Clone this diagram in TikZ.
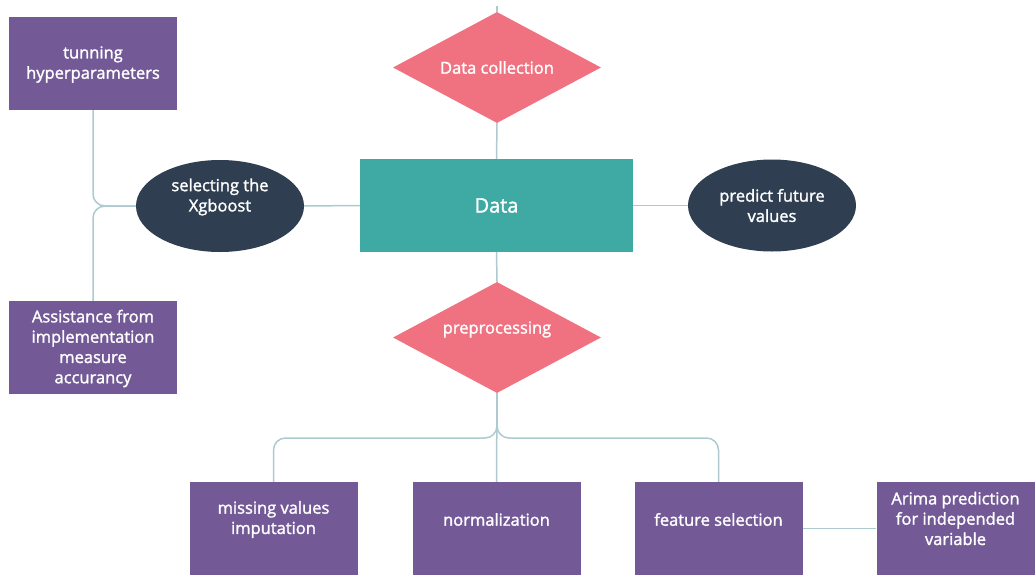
\documentclass[tikz,border=0pt]{standalone}
\usepackage{fontspec}
\setmainfont{Open Sans}[FakeBold=1.6]
\usetikzlibrary{shapes.geometric}
\definecolor{boxpurple}{RGB}{115,90,151}
\definecolor{navy}{RGB}{47,63,81}
\definecolor{pinkd}{RGB}{240,114,128}
\definecolor{tealb}{RGB}{62,170,163}
\definecolor{linec}{RGB}{172,202,208}
\tikzset{
  pbox/.style={rectangle, fill=boxpurple, minimum width=168pt, minimum height=93pt, inner sep=0pt},
  oval/.style={ellipse, fill=navy, minimum width=168pt, minimum height=92pt, inner sep=0pt},
  dmd/.style={diamond, fill=pinkd, minimum width=208pt, minimum height=111pt, aspect=1.87, inner sep=0pt},
  txt/.style={text=white, align=center, font=\fontsize{16.5}{20.3}\selectfont},
  conn/.style={draw=linec, line width=1.5pt},
}
\begin{document}
\begin{tikzpicture}[x=1pt,y=-1pt]
\useasboundingbox (0,0) rectangle (1036,576);
% nodes
\node[rectangle, fill=tealb, minimum width=273pt, minimum height=93pt, inner sep=0pt] (data) at (496.5,205.5) {};
\node[txt, font=\fontsize{20}{24}\selectfont] at (data.center) {Data};
\node[dmd] (dc) at (497,67.5) {};
\node[txt] at (dc.center) {Data collection};
\node[dmd] (pp) at (497,337.5) {};
\node[txt] at ([yshift=8pt]pp.center) {preprocessing};
\node[oval] (sel) at (220,206) {};
\node[txt] at ([yshift=9pt]sel.center) {selecting the\\Xgboost};
\node[oval] (pred) at (772,205.5) {};
\node[txt] at (pred.center) {predict future\\values};
\node[pbox] (tl) at (93,63.5) {};
\node[txt] at ([yshift=-1pt]tl.center) {tunning\\hyperparameters};
\node[pbox] (al) at (93,347.5) {};
\node[txt] at ([yshift=-1pt]al.center) {Assistance from\\implementation\\measure\\accurancy};
\node[pbox] (mv) at (273.5,528.5) {};
\node[txt] at ([yshift=9pt]mv.center) {missing values\\imputation};
\node[pbox] (nm) at (496.5,528.5) {};
\node[txt] at ([yshift=9pt]nm.center) {normalization};
\node[pbox] (fs) at (718.5,528.5) {};
\node[txt] at ([yshift=9pt]fs.center) {feature selection};
\node[rectangle, fill=boxpurple, minimum width=158pt, minimum height=93pt, inner sep=0pt] (ar) at (955.5,528.5) {};
\node[txt] at ([yshift=10pt]ar.center) {Arima prediction\\for independed\\variable};
% coordinates
\coordinate (top) at (497,6);
\coordinate (bfork) at (497,438);
% connectors
\draw[conn] (top) -- (dc.north);
\draw[conn] (dc.south) -- (data.north);
\draw[conn] (data.south) -- (pp.north);
\draw[conn] (sel.east) -- (data.west);
\draw[conn] (data.east) -- (pred.west);
\draw[conn, rounded corners=12pt] (tl.south) |- (sel.west);
\draw[conn, rounded corners=12pt] (al.north) |- (sel.west);
\draw[conn] (pp.south) -- (nm.north);
\draw[conn, rounded corners=12pt] (mv.north) |- (bfork) -- (pp.south);
\draw[conn, rounded corners=12pt] (fs.north) |- (bfork) -- (pp.south);
\draw[conn] (fs.east) -- (ar.west);
\end{tikzpicture}
\end{document}
